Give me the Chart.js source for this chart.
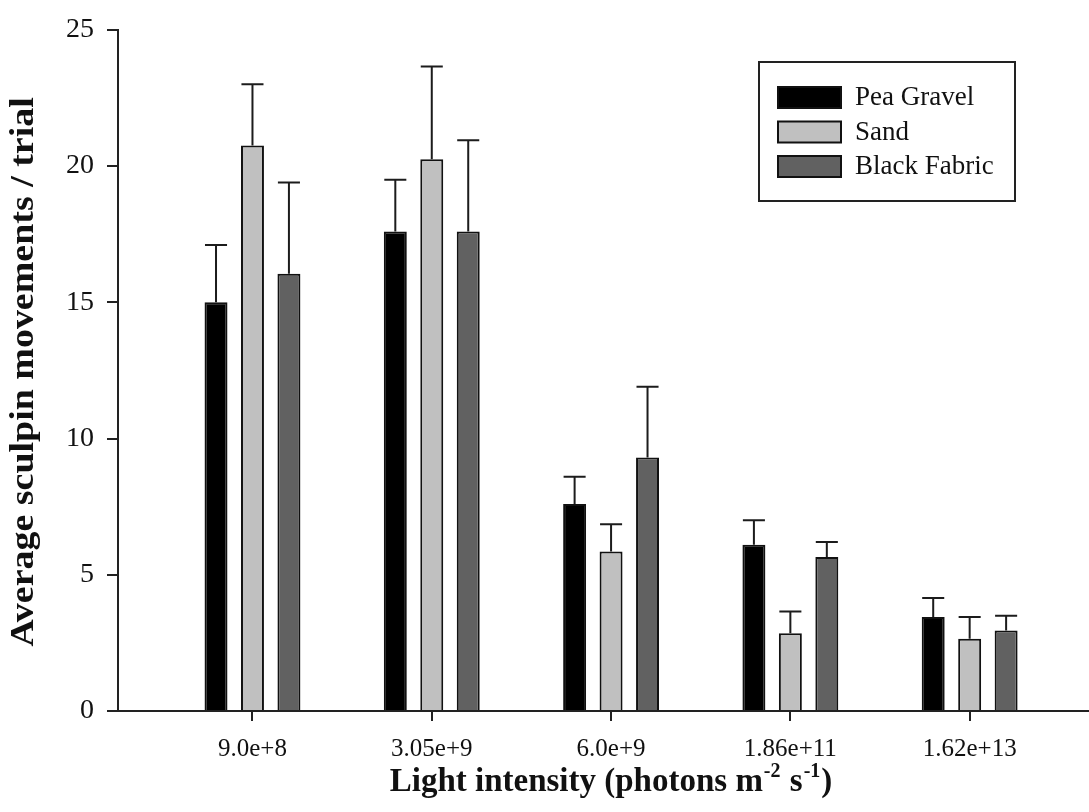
<!DOCTYPE html>
<html>
<head>
<meta charset="utf-8">
<script src="https://cdn.jsdelivr.net/npm/chart.js@4/dist/chart.umd.min.js"></script>
<style>
  html, body { margin: 0; padding: 0; background: #fff; }
</style>
</head>
<body>
<canvas id="myChart" width="1089" height="812"></canvas>
<script>
// light levels tested (photons m-2 s-1)
const lightLevels = ['9.0e+8', '3.05e+9', '6.0e+9', '1.86e+11', '1.62e+13'];

// mean sculpin movements per trial for each substrate
const peaGravel = [15.0, 17.6, 7.6, 6.1, 3.45];
const sand = [20.75, 20.25, 5.85, 2.85, 2.65];
const blackFabric = [16.05, 17.6, 9.3, 5.65, 2.95];

// standard errors, drawn upward only
const peaGravelErr = [2.1, 1.9, 1.0, 0.9, 0.7];
const sandErr = [2.25, 3.4, 1.0, 0.8, 0.8];
const blackFabricErr = [3.35, 3.35, 2.6, 0.55, 0.55];

const yTicks = [0, 5, 10, 15, 20, 25];

const serif = "'Liberation Serif', 'Times New Roman', serif";

function points(vals) {
  return vals.map((v, i) => ({ x: i, y: v }));
}

// error bars: stem from bar top plus a cap
const errorBars = {
  id: 'errorBars',
  afterDatasetsDraw(chart) {
    const ctx = chart.ctx;
    const yScale = chart.scales.y;
    ctx.save();
    ctx.strokeStyle = '#1c1c1c';
    ctx.lineWidth = 2;
    chart.data.datasets.forEach((ds, di) => {
      const meta = chart.getDatasetMeta(di);
      meta.data.forEach((bar, i) => {
        const top = yScale.getPixelForValue(ds.data[i].y + ds.errors[i]);
        const half = bar.width * 0.48;
        ctx.beginPath();
        ctx.moveTo(bar.x, bar.y);
        ctx.lineTo(bar.x, top);
        ctx.moveTo(bar.x - half, top);
        ctx.lineTo(bar.x + half, top);
        ctx.stroke();
      });
    });
    ctx.restore();
  }
};

// boxed legend in the upper right plus both axis titles
const decorations = {
  id: 'decorations',
  afterDraw(chart) {
    const ctx = chart.ctx;
    ctx.save();

    // legend
    ctx.strokeStyle = '#222';
    ctx.lineWidth = 2;
    ctx.strokeRect(759, 62, 256, 139);
    ctx.font = '27px ' + serif;
    ctx.textBaseline = 'middle';
    ctx.textAlign = 'left';
    chart.data.datasets.forEach((ds, i) => {
      const top = 87 + i * 34.5;
      ctx.fillStyle = ds.backgroundColor;
      ctx.fillRect(778, top, 63, 21);
      ctx.strokeStyle = '#111';
      ctx.strokeRect(778, top, 63, 21);
      ctx.fillStyle = '#111';
      ctx.fillText(ds.label, 855, top + 11);
    });

    // y title, stretched a little along its length
    ctx.save();
    ctx.translate(24, 372);
    ctx.rotate(-Math.PI / 2);
    ctx.scale(1.15, 1);
    ctx.font = 'bold 33px ' + serif;
    ctx.textAlign = 'center';
    ctx.textBaseline = 'middle';
    ctx.fillText('Average sculpin movements / trial', 0, 0);
    ctx.restore();

    // x title with superscripts
    const parts = [
      ['Light intensity (photons m', false],
      ['-2', true],
      [' s', false],
      ['-1', true],
      [')', false]
    ];
    const big = 'bold 33px ' + serif;
    const small = 'bold 20px ' + serif;
    let total = 0;
    parts.forEach(p => {
      ctx.font = p[1] ? small : big;
      total += ctx.measureText(p[0]).width + (p[1] ? 2 : 0);
    });
    let x = 611 - total / 2;
    const base = 791;
    ctx.textAlign = 'left';
    ctx.textBaseline = 'alphabetic';
    parts.forEach(p => {
      ctx.font = p[1] ? small : big;
      ctx.fillText(p[0], x + (p[1] ? 1 : 0), p[1] ? base - 14 : base);
      x += ctx.measureText(p[0]).width + (p[1] ? 2 : 0);
    });

    ctx.restore();
  }
};

const data = {
  datasets: [{
    label: 'Pea Gravel',
    data: points(peaGravel),
    errors: peaGravelErr,
    backgroundColor: '#000000'
  }, {
    label: 'Sand',
    data: points(sand),
    errors: sandErr,
    backgroundColor: '#c0c0c0'
  }, {
    label: 'Black Fabric',
    data: points(blackFabric),
    errors: blackFabricErr,
    backgroundColor: '#616161'
  }]
};

const config = {
  type: 'bar',
  data,
  options: {
    responsive: false,
    animation: false,
    devicePixelRatio: 1,
    layout: { padding: { top: 21, right: 1, left: 0, bottom: 0 } },
    datasets: {
      bar: {
        borderColor: '#111',
        borderWidth: 2,
        borderSkipped: 'start',
        barPercentage: 0.63,
        categoryPercentage: 0.61
      }
    },
    plugins: {
      legend: { display: false },
      tooltip: { enabled: false }
    },
    scales: {
      x: {
        type: 'linear',
        offset: false,
        min: -0.75,
        max: 4.66,
        afterFit: s => { s.height = 101; },
        border: { display: true, color: '#222', width: 2 },
        grid: { offset: false, drawOnChartArea: false, drawTicks: true, tickLength: 10, color: '#222', lineWidth: 2 },
        ticks: {
          stepSize: 1,
          includeBounds: false,
          autoSkip: false,
          maxRotation: 0,
          padding: 13,
          color: '#111',
          font: { family: serif, size: 25 },
          callback: v => (Number.isInteger(v) && v >= 0 && v < lightLevels.length) ? lightLevels[v] : ''
        }
      },
      y: {
        min: yTicks[0],
        max: yTicks[yTicks.length - 1],
        afterFit: s => { s.width = 118; },
        afterBuildTicks: s => { s.ticks = yTicks.map(v => ({ value: v })); },
        border: { display: true, color: '#222', width: 2 },
        grid: { drawOnChartArea: false, drawTicks: true, tickLength: 11, color: '#222', lineWidth: 2 },
        ticks: {
          padding: 13,
          color: '#111',
          font: { family: serif, size: 28 }
        }
      }
    }
  },
  plugins: [errorBars, decorations]
};

const myChart = new Chart(document.getElementById('myChart'), config);
</script>
</body>
</html>
